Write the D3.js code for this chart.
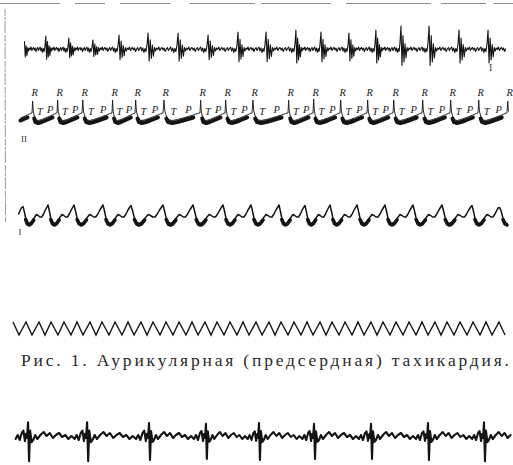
<!DOCTYPE html>
<html>
<head>
<meta charset="utf-8">
<script src="https://cdn.jsdelivr.net/npm/d3@7"></script>
<style>
html, body { margin: 0; padding: 0; background: #fff; }
svg { display: block; }
</style>
</head>
<body>
<svg id="chart" width="513" height="465"></svg>
<script>
// strip time in seconds, amplitudes in mV

// top strip, lead I: beat times and spike size per beat
var leadOneBeats = [0.45, 0.68, 0.92, 1.18, 1.47, 1.77, 2.07, 2.37, 2.65, 2.95, 3.20, 3.48, 3.75, 4.00, 4.28, 4.58, 4.87];
var leadOneAmp   = [1.4, 1.2, 1.0, 1.5, 1.7, 1.7, 1.5, 1.8, 1.8, 2.0, 1.8, 1.7, 2.0, 2.4, 2.4, 2.0, 2.0];
var leadOneFrac   = [0, 0.036, 0.071, 0.107, 0.143, 0.179, 0.214, 0.25, 0.286, 0.321, 0.357, 0.393, 0.429, 0.464,
                     0.5, 0.536, 0.571, 0.607, 0.643, 0.679, 0.714, 0.75, 0.786, 0.821, 0.857, 0.893, 0.929, 0.964];
var leadOneWiggle = [0, 0, 0, 0, 0, 0.15, -0.2, 0.25, -0.1, 0.2, 0.05, 0.3, -0.05, 0.15,
                     0.25, 0.0, 0.2, -0.15, 0.1, 0.25, -0.05, 0.15, 0.3, -0.1, 0.2, -0.25, 0.15, -0.15];
var leadOneSpike  = [0.3, 1.0, -0.65, 0.6, -0.5, 0.2, -0.25, 0, 0, 0, 0, 0, 0, 0,
                     0, 0, 0, 0, 0, 0, 0, 0, 0, 0, 0, 0, 0, 0];

// strip II with R / T / P letters
var leadTwoBeats = [0.32, 0.57, 0.82, 1.12, 1.35, 1.63, 2.00, 2.25, 2.52, 2.88, 3.13, 3.40, 3.67, 3.93, 4.22, 4.50, 4.78, 5.07];
var leadTwoAmp   = [1.2, 1.3, 1.3, 1.3, 1.3, 1.3, 1.3, 1.3, 1.3, 1.3, 1.4, 1.3, 1.3, 1.3, 1.3, 1.3, 1.3, 1.2];
var leadTwoFrac   = [0, 0.025, 0.05, 0.09, 0.14, 0.25, 0.39, 0.54, 0.68, 0.82, 0.93];
var leadTwoWiggle = [0, 0, 0.2, -0.3, -0.65, -0.75, -0.65, -0.5, -0.35, -0.2, -0.05];
var leadTwoSpike  = [0, 1.0, 0, 0, 0, 0, 0, 0, 0, 0, 0];
var waveLetters = ["R", "T", "P"];

// third strip, lead I
var leadThreeBeats = [0.23, 0.48, 0.74, 1.03, 1.31, 1.63, 1.93, 2.23, 2.51, 2.79, 3.05, 3.30, 3.57, 3.85, 4.13, 4.42, 4.72, 5.00];
var leadThreeAmp   = [0.85, 1.0, 1.0, 1.0, 0.95, 1.0, 1.0, 1.0, 1.0, 1.0, 0.95, 1.0, 1.0, 1.0, 1.0, 1.0, 0.95, 0.7];
var leadThreeFrac   = [0, 0.036, 0.107, 0.179, 0.25, 0.321, 0.429, 0.536, 0.607, 0.679, 0.75, 0.821, 0.893, 0.946];
var leadThreeWiggle = [0, 0, -0.3, -0.75, -0.85, -0.75, -0.35, 0.05, -0.05, -0.2, -0.2, 0.1, 0.5, 0.75];
var leadThreeSpike  = [1.0, 0.6, 0, 0, 0, 0, 0, 0, 0, 0, 0, 0, 0, 0];

// time marker (tuning fork) vertices
var timerTops = [0.13, 0.26, 0.39, 0.51, 0.64, 0.77, 0.90, 1.02, 1.15, 1.28, 1.41, 1.53, 1.66, 1.79, 1.92, 2.05, 2.17, 2.30, 2.43, 2.56,
                 2.69, 2.81, 2.94, 3.07, 3.20, 3.32, 3.45, 3.58, 3.71, 3.83, 3.96, 4.09, 4.22, 4.35, 4.47, 4.60, 4.73, 4.86, 4.99];
var timerTroughs = [0.19, 0.32, 0.45, 0.58, 0.71, 0.83, 0.96, 1.09, 1.22, 1.34, 1.47, 1.60, 1.73, 1.86, 1.98, 2.11, 2.24, 2.37, 2.49, 2.62,
                    2.75, 2.88, 3.01, 3.13, 3.26, 3.39, 3.52, 3.64, 3.77, 3.90, 4.03, 4.16, 4.28, 4.41, 4.54, 4.67, 4.80, 4.92, 5.05];
var timerLevel = 0.65;

// bottom strip
var leadFiveBeats = [0.27, 0.86, 1.48, 2.05, 2.58, 3.13, 3.70, 4.27, 4.83];
var leadFiveAmp   = [1.05, 1.05, 1.0, 0.95, 1.0, 0.95, 0.95, 1.0, 1.05];
var leadFiveFrac   = [0, 0.018, 0.035, 0.053, 0.079, 0.105, 0.14, 0.175, 0.228, 0.281, 0.333, 0.386, 0.439,
                      0.491, 0.544, 0.596, 0.649, 0.702, 0.754, 0.807, 0.842, 0.877, 0.912, 0.939, 0.965, 0.982];
var leadFiveWiggle = [0, 0, 0, 0, 0, -0.2, 0.3, -0.1, 0.3, 0.6, 0.2, 0.5, 0.0,
                      0.3, 0.5, 0.1, 0.3, -0.1, 0.2, -0.1, 0.3, -0.2, 0.2, 0, 0, 0];
var leadFiveSpike  = [0, 1.5, -2.2, 0.7, -0.4, 0, 0, 0, 0, 0, 0, 0, 0,
                      0, 0, 0, 0, 0, 0, 0, 0, 0, 0.3, 0.7, -0.3, 0.4];

var caption = "Рис. 1. Аурикулярная (предсердная) тахикардия.";

var svg = d3.select("#chart");
var ink = "#141414";

var x = d3.scaleLinear().domain([0, 5.13]).range([0, 513]);
function yFor(base) {
    return d3.scaleLinear().domain([-1, 1]).range([base + 10, base - 10]);
}

// lay a beat template over every beat, plus the tail of one before the first
function buildTrace(beats, amps, frac, wiggle, spike, t0, t1) {
    var pts = [];
    var starts = [beats[0] - (beats[1] - beats[0])].concat(beats);
    starts.forEach(function(b, i) {
        var next = i < starts.length - 1 ? starts[i + 1] : b + (b - starts[i - 1]);
        var rr = next - b;
        var a = i == 0 ? amps[0] : amps[i - 1];
        frac.forEach(function(f, j) {
            var t = b + f * rr;
            if (t >= t0 && t <= t1) pts.push({ t: t, v: wiggle[j] + a * spike[j], f: f, beat: i });
        });
    });
    return pts;
}

function drawTrace(pts, y, width, dy) {
    var line = d3.line().x(function(d) { return x(d.t); }).y(function(d) { return y(d.v) + (dy || 0); });
    svg.append("path")
        .attr("d", line(pts))
        .attr("fill", "none")
        .attr("stroke", ink)
        .attr("stroke-width", width)
        .attr("stroke-linejoin", "round")
        .attr("stroke-linecap", "round");
}

// scan edges
svg.append("line")
    .attr("x1", 0).attr("x2", 513).attr("y1", 3.5).attr("y2", 3.5)
    .attr("stroke", "#888").attr("stroke-width", 1.1)
    .attr("stroke-dasharray", "60,15,30,15,50,20,65,6,70,15,85,10,45,8,20");
svg.append("line")
    .attr("x1", 5).attr("x2", 5.5).attr("y1", 9).attr("y2", 222)
    .attr("stroke", "#999").attr("stroke-width", 1)
    .attr("stroke-dasharray", "7,1,3,1,12,2");

// lead I, top
var y1 = yFor(50);
drawTrace(buildTrace(leadOneBeats, leadOneAmp, leadOneFrac, leadOneWiggle, leadOneSpike, 0.24, 5.06), y1, 1.1);

// lead II with letters
var y2 = yFor(113);
var trace2 = buildTrace(leadTwoBeats, leadTwoAmp, leadTwoFrac, leadTwoWiggle, leadTwoSpike, 0.205, 5.09);
drawTrace(trace2, y2, 0.9);
d3.groups(trace2.filter(function(d) { return d.f >= 0.09 && d.f <= 0.82; }), function(d) { return d.beat; })
    .forEach(function(g) {
        drawTrace(g[1], y2, 4, 2.5);
    });

var letterRows = [];
leadTwoBeats.forEach(function(b, i) {
    var next = i < leadTwoBeats.length - 1 ? leadTwoBeats[i + 1] : b + 0.28;
    letterRows.push({ k: waveLetters[0], t: b - 0.005, v: 1.7 });
    if (i < leadTwoBeats.length - 1) {
        letterRows.push({ k: waveLetters[1], t: b + 0.2 * (next - b), v: -0.15 });
        letterRows.push({ k: waveLetters[2], t: b + 0.6 * (next - b), v: 0.05 });
    }
});
svg.selectAll(".waveLetter")
    .data(letterRows)
    .enter()
    .append("text")
    .attr("class", "waveLetter")
    .attr("x", function(d) { return x(d.t); })
    .attr("y", function(d) { return y2(d.v); })
    .attr("font-family", "Liberation Serif, DejaVu Serif, serif")
    .attr("font-style", "italic")
    .attr("font-size", 10.5)
    .attr("fill", "#222")
    .text(function(d) { return d.k; });

// lead I, third strip
var y3 = yFor(215);
var trace3 = buildTrace(leadThreeBeats, leadThreeAmp, leadThreeFrac, leadThreeWiggle, leadThreeSpike, 0.18, 5.07);
drawTrace(trace3, y3, 1.5);
d3.groups(trace3.filter(function(d) { return d.f >= 0.1 && d.f <= 0.45; }), function(d) { return d.beat; })
    .forEach(function(g) {
        drawTrace(g[1], y3, 3.6, 1.5);
    });

// time marker zigzag
var y4 = yFor(328.5);
var timerPts = timerTops.map(function(t) { return { t: t, v: timerLevel }; })
    .concat(timerTroughs.map(function(t) { return { t: t, v: -timerLevel }; }))
    .sort(function(a, b) { return a.t - b.t; });
svg.append("path")
    .attr("d", d3.line().x(function(d) { return x(d.t); }).y(function(d) { return y4(d.v); })(timerPts))
    .attr("fill", "none")
    .attr("stroke", ink)
    .attr("stroke-width", 1.4)
    .attr("stroke-linejoin", "miter");

// caption
svg.append("text")
    .attr("x", 21)
    .attr("y", 366)
    .attr("textLength", 488)
    .attr("lengthAdjust", "spacing")
    .attr("font-family", "Liberation Serif, DejaVu Serif, serif")
    .attr("font-size", 17.5)
    .attr("fill", "#2a2a2a")
    .text(caption);

// bottom strip
var y5 = yFor(438);
drawTrace(buildTrace(leadFiveBeats, leadFiveAmp, leadFiveFrac, leadFiveWiggle, leadFiveSpike, 0.13, 5.13), y5, 2.1);

// lead marks
var leadMarks = [
    { text: "I", x: 4.89, y: y1(-2.1), size: 10 },
    { text: "II", x: 0.21, y: y2(-2.9), size: 9 },
    { text: "I", x: 0.185, y: y3(-2.0), size: 9 }
];
svg.selectAll(".leadMark")
    .data(leadMarks)
    .enter()
    .append("text")
    .attr("class", "leadMark")
    .attr("x", function(d) { return x(d.x); })
    .attr("y", function(d) { return d.y; })
    .attr("font-family", "Liberation Serif, DejaVu Serif, serif")
    .attr("font-size", function(d) { return d.size; })
    .attr("fill", "#333")
    .text(function(d) { return d.text; });
</script>
</body>
</html>
